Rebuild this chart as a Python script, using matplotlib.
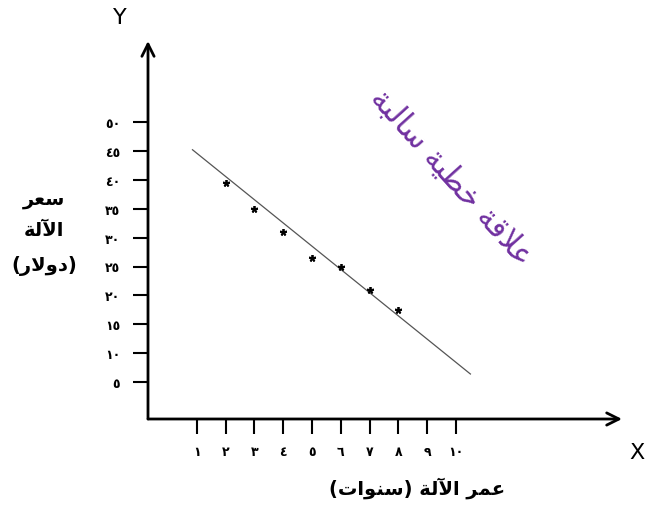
import matplotlib
matplotlib.use("Agg")
import matplotlib.pyplot as plt

# values
years = [2, 3, 4, 5, 6, 7, 8]
prices = [39.5, 35, 31, 26.5, 25, 21, 17.5]
fit_x = [0.85, 10.5]
fit_y = [45.2, 6.4]
x_ticks = list(range(1, 11))
y_ticks = list(range(5, 55, 5))

x_label = "عمر الآلة (سنوات)"
y_label_lines = ["سعر", "الآلة", "(دولار)"]
note = "علاقة خطية سالبة"

# matplotlib has no arabic joining / bidi, so do a small shaping pass by hand
# (isolated, final, initial, medial); None = letter does not join forward
FORMS = {
    "ا": (0xFE8D, 0xFE8E, None, None),
    "آ": (0xFE81, 0xFE82, None, None),
    "ب": (0xFE8F, 0xFE90, 0xFE91, 0xFE92),
    "ة": (0xFE93, 0xFE94, None, None),
    "ت": (0xFE95, 0xFE96, 0xFE97, 0xFE98),
    "خ": (0xFEA5, 0xFEA6, 0xFEA7, 0xFEA8),
    "د": (0xFEA9, 0xFEAA, None, None),
    "ر": (0xFEAD, 0xFEAE, None, None),
    "س": (0xFEB1, 0xFEB2, 0xFEB3, 0xFEB4),
    "ط": (0xFEC1, 0xFEC2, 0xFEC3, 0xFEC4),
    "ع": (0xFEC9, 0xFECA, 0xFECB, 0xFECC),
    "ق": (0xFED5, 0xFED6, 0xFED7, 0xFED8),
    "ل": (0xFEDD, 0xFEDE, 0xFEDF, 0xFEE0),
    "م": (0xFEE1, 0xFEE2, 0xFEE3, 0xFEE4),
    "ن": (0xFEE5, 0xFEE6, 0xFEE7, 0xFEE8),
    "و": (0xFEED, 0xFEEE, None, None),
    "ي": (0xFEF1, 0xFEF2, 0xFEF3, 0xFEF4),
}
LAM_ALEF = {"ا": (0xFEFB, 0xFEFC), "آ": (0xFEF5, 0xFEF6)}


def joins_forward(c):
    return c in FORMS and FORMS[c][2] is not None


def shape(text):
    out = []
    i, n = 0, len(text)
    while i < n:
        c = text[i]
        connect_prev = i > 0 and joins_forward(text[i - 1])
        if c == "ل" and i + 1 < n and text[i + 1] in LAM_ALEF:
            iso, fin = LAM_ALEF[text[i + 1]]
            out.append(chr(fin if connect_prev else iso))
            i += 2
            continue
        if c in FORMS:
            iso, fin, ini, med = FORMS[c]
            connect_next = ini is not None and i + 1 < n and text[i + 1] in FORMS
            if connect_prev and connect_next:
                g = med
            elif connect_prev:
                g = fin
            elif connect_next:
                g = ini
            else:
                g = iso
            out.append(chr(g))
        else:
            out.append(c)
        i += 1
    visual = "".join(reversed(out))
    return visual.translate(str.maketrans("()", ")("))


def ar_digits(v):
    return str(v).translate(str.maketrans("0123456789", "٠١٢٣٤٥٦٧٨٩"))


W, H = 646, 506
plt.rcParams["font.family"] = ["DejaVu Sans"]
fig = plt.figure(figsize=(W / 100, H / 100), dpi=100)

# axes box in pixels: left 148, right 622, top 42, bottom 420
px_x, px_y = 28.8, 5.78          # pixels per data unit
ax = fig.add_axes([148 / W, (H - 420) / H, (622 - 148) / W, (420 - 42) / H])
x_min = (148 - 168) / px_x
y_min = (412 - 420) / px_y
ax.set_xlim(x_min, x_min + (622 - 148) / px_x)
ax.set_ylim(y_min, y_min + (420 - 42) / px_y)

for s in ax.spines.values():
    s.set_visible(False)
ax.annotate("", xy=(0, 1), xytext=(0, 0), xycoords="axes fraction",
            arrowprops=dict(arrowstyle="->", lw=2, color="black", mutation_scale=22,
                            shrinkA=0, shrinkB=0))
ax.annotate("", xy=(1, 0), xytext=(0, 0), xycoords="axes fraction",
            arrowprops=dict(arrowstyle="->", lw=2, color="black", mutation_scale=22,
                            shrinkA=0, shrinkB=0))

ax.plot(fit_x, fit_y, color="#555555", lw=0.9)
ax.plot(years, prices, ls="none", marker=(5, 2), ms=5, mew=1.3, color="black")

ax.set_xticks(x_ticks)
ax.set_xticklabels([ar_digits(v) for v in x_ticks], fontsize=9, fontweight="bold")
ax.set_yticks(y_ticks)
ax.set_yticklabels([ar_digits(v) for v in y_ticks], fontsize=9, fontweight="bold")
ax.tick_params(axis="x", direction="out", length=11, width=1.5, pad=8)
ax.tick_params(axis="y", direction="out", length=11, width=1.5, pad=9)

fig.text(120 / W, 1 - 18 / H, "Y", fontsize=16, ha="center", va="center")
fig.text(637 / W, 1 - 453 / H, "X", fontsize=16, ha="center", va="center")

for yy, line in zip([200, 231, 266], y_label_lines):
    fig.text(44 / W, 1 - yy / H, shape(line), fontsize=14, fontweight="bold",
             ha="center", va="center")
fig.text(417 / W, 1 - 488 / H, shape(x_label), fontsize=14, fontweight="bold",
         ha="center", va="center")

fig.text(452 / W, 1 - 177 / H, shape(note), fontsize=22, color="#7030A0",
         rotation=-48, rotation_mode="anchor", ha="center", va="center")

fig.savefig("out.png", dpi=100)
